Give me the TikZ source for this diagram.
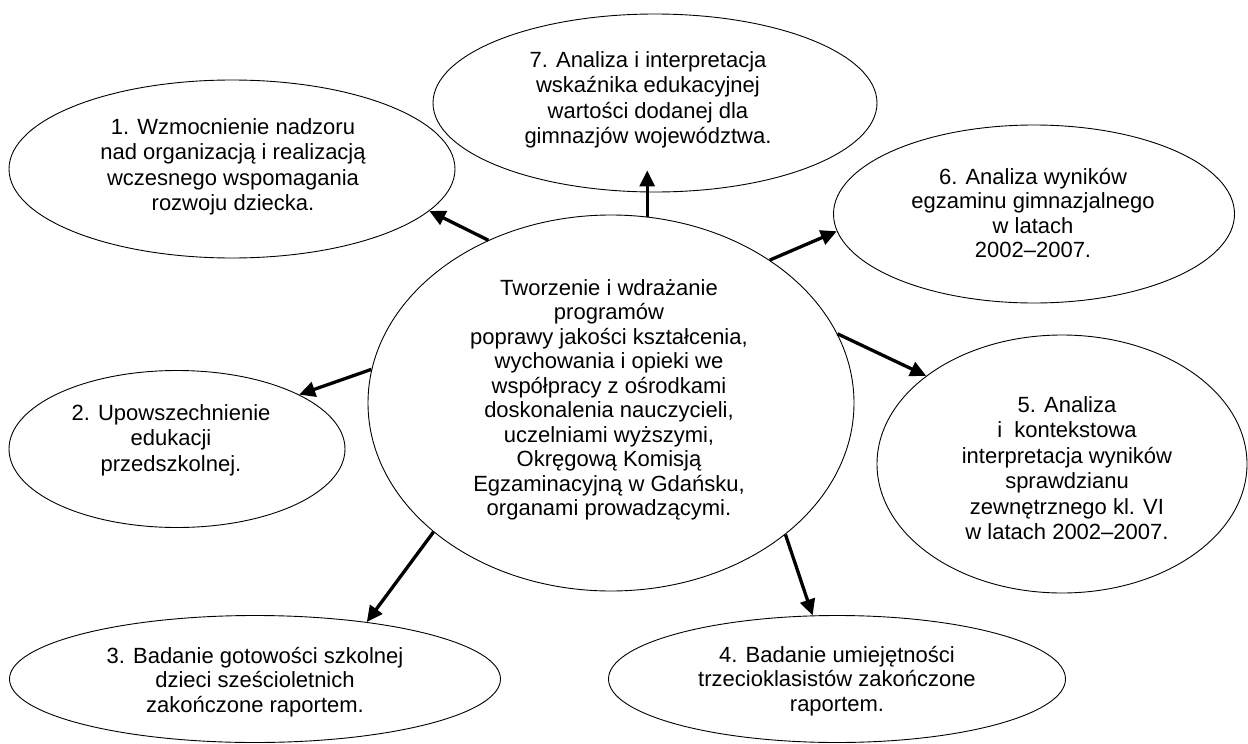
\documentclass[tikz,border=0pt]{standalone}
\usepackage{fontspec}
\setmainfont{Liberation Sans}
\usetikzlibrary{shapes.geometric,arrows.meta}
\begin{document}
\begin{tikzpicture}[x=1pt,y=-1pt,
  ell/.style={ellipse,draw,line width=0.9pt,inner sep=0pt},
  lbl/.style={align=center,font=\fontsize{22}{24.5}\selectfont,inner sep=0pt},
  wide/.style={font=\fontsize{22}{25.5}\selectfont},
  arr/.style={line width=3.3pt,-{Triangle[length=16pt,width=15pt]}}]
\useasboundingbox (0,0) rectangle (1248,744);
% ellipses
\node[ell,minimum width=486pt,minimum height=376pt] (c)  at (611,403) {};
\node[ell,minimum width=446pt,minimum height=178pt] (e1) at (232,169) {};
\node[ell,minimum width=444pt,minimum height=178pt] (e7) at (655,103) {};
\node[ell,minimum width=401pt,minimum height=178pt] (e6) at (1034,214) {};
\node[ell,minimum width=370pt,minimum height=258pt] (e5) at (1062,464) {};
\node[ell,minimum width=336pt,minimum height=157pt] (e2) at (177,449) {};
\node[ell,minimum width=491pt,minimum height=127pt] (e3) at (255,679) {};
\node[ell,minimum width=457pt,minimum height=127pt] (e4) at (837,679) {};
% texts
\node[lbl] (tc) at (609,400) {Tworzenie i wdrażanie\\programów\\poprawy jakości kształcenia,\\wychowania i opieki we\\współpracy z ośrodkami\\doskonalenia nauczycieli,\\uczelniami wyższymi,\\Okręgową Komisją\\Egzaminacyjną w Gdańsku,\\organami prowadzącymi.};
\node[lbl,wide] (t1) at (233,167) {1. Wzmocnienie nadzoru\\nad organizacją i realizacją\\wczesnego wspomagania\\rozwoju dziecka.};
\node[lbl,wide] (t7) at (648,100) {7. Analiza i interpretacja\\wskaźnika edukacyjnej\\wartości dodanej dla\\gimnazjów województwa.};
\node[lbl] (t6) at (1033,213) {6. Analiza wyników\\egzaminu gimnazjalnego\\w latach\\2002–2007.};
\node[lbl,wide] (t5) at (1067,468) {5. Analiza\\i~~kontekstowa\\interpretacja wyników\\sprawdzianu\\zewnętrznego kl. VI\\w latach 2002–2007.};
\node[lbl,wide] (t2) at (171,440) {2. Upowszechnienie\\edukacji\\przedszkolnej.};
\node[lbl] (t3) at (255,682) {3. Badanie gotowości szkolnej\\dzieci sześcioletnich\\zakończone raportem.};
\node[lbl] (t4) at (837,681) {4. Badanie umiejętności\\trzecioklasistów zakończone\\raportem.};
% arrows
\draw[arr] (c.127.4) -- (e1.-12.3);
\draw[arr,shorten >=-22pt] (c.79) -- (c.79 |- e7.south);
\draw[arr] (c.42.4) -- (e6.185.9);
\draw[arr] (c.17.3) -- (e5.147);
\draw[arr] (c.172.2) -- (e2.24.9);
\draw[arr] (c.216) -- (e3.27.4);
\draw[arr] (c.-37) -- (e4.111.3);
\end{tikzpicture}
\end{document}
